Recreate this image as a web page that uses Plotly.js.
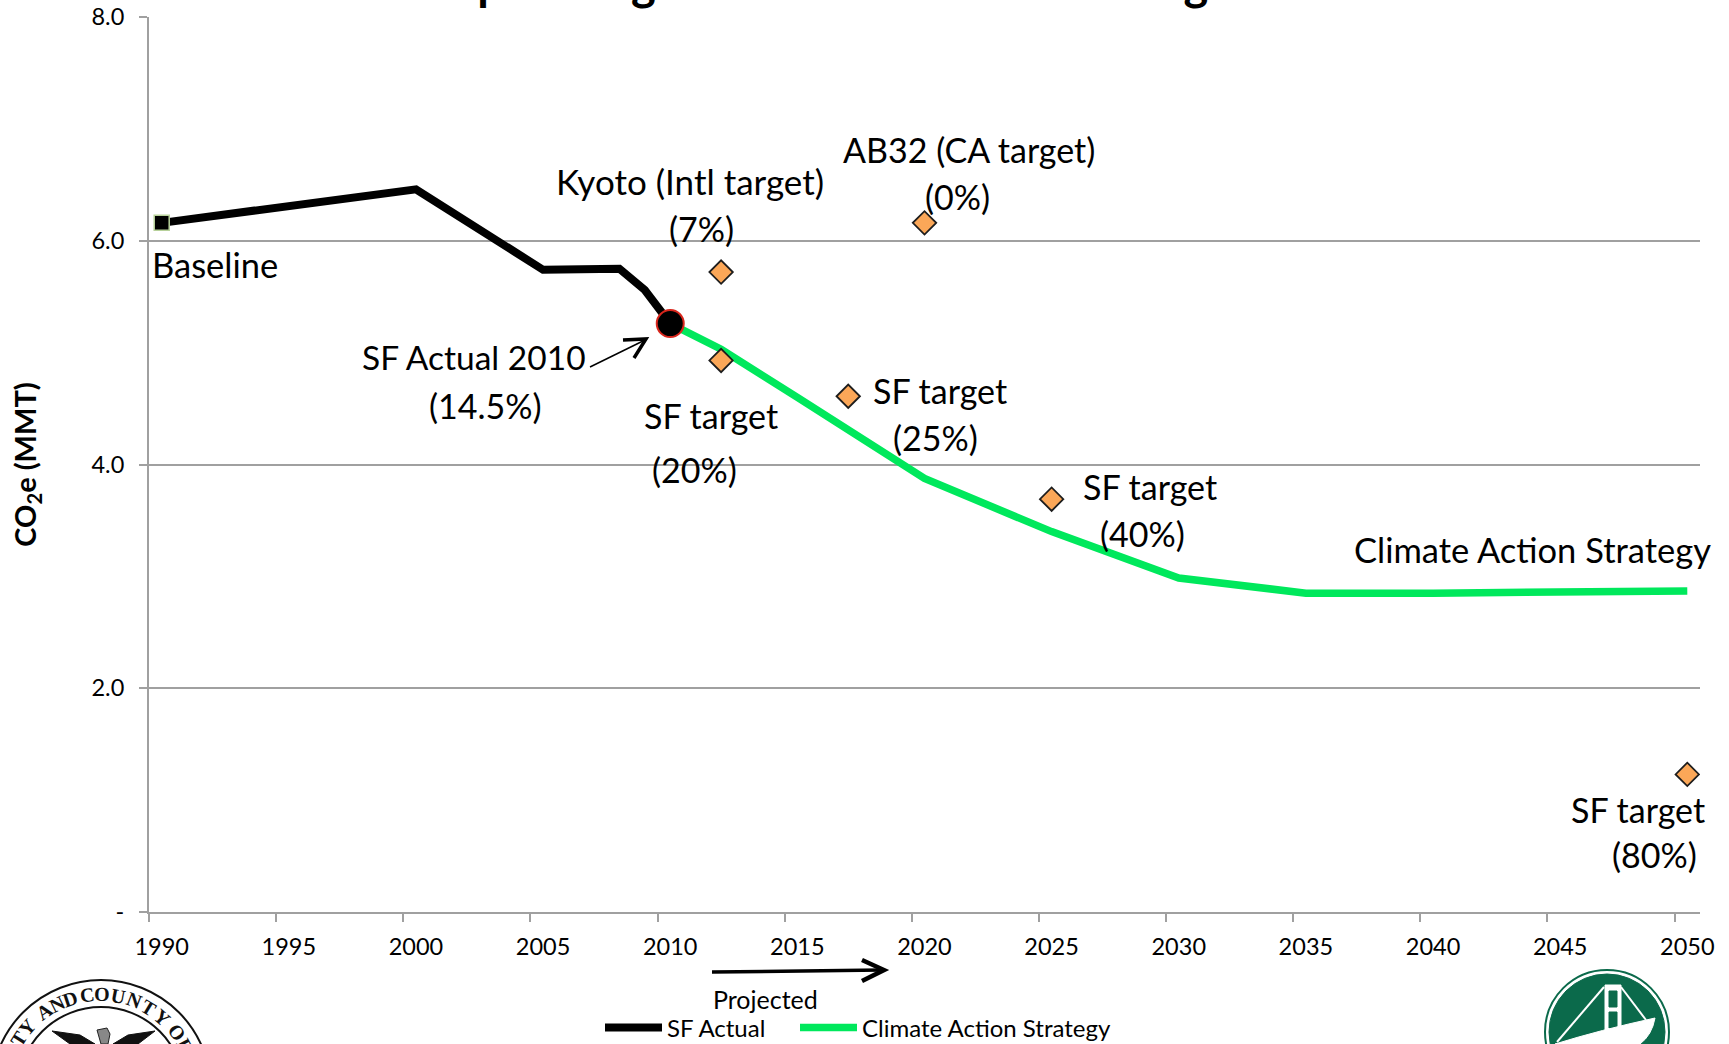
<!DOCTYPE html>
<html><head><meta charset="utf-8">
<script src="https://cdn.plot.ly/plotly-3.0.1.min.js"></script>
<style>html,body{margin:0;padding:0;background:#fff}#c{width:1729px;height:1044px}</style>
</head><body><div id="c"></div>
<script>
const actualYears=[1990,2000,2005,2008,2009,2010];
const actualValues=[6.16,6.46,5.74,5.75,5.56,5.26];
const strategyYears=[2010,2012,2015,2020,2025,2030,2035,2040,2050];
const strategyValues=[5.26,5.03,4.60,3.875,3.40,2.985,2.85,2.85,2.87];
const targetYears=[2012,2012,2017,2020,2025,2050];
const targetValues=[5.72,4.93,4.61,6.16,3.69,1.23];
const baselineYear=[1990],baselineValue=[6.16];
const actual2010Year=[2010],actual2010Value=[5.26];
const axisYears=[];for(let y=1990;y<=2050;y++)axisYears.push(String(y));
const yTickVals=[0,2,4,6,8],yTickText=['-','2.0','4.0','6.0','8.0'];
const titleText='Upcoming Reductions and State Targets';
const FONT='Lato, "Noto Sans", sans-serif';
const L=149,R=1700,T=17,B=912;
const px=x=>(x-L)/(R-L),py=y=>(B-y)/(B-T);
const P=(x,y)=>px(x)+','+py(y);
const S=1.1027;
const labels=[['Baseline',195,239.5,34.5],['Kyoto (Intl target)',626,164.5,35],['(7%)',636,207.5],['AB32 (CA target)',879,135.5],['(0%)',868,178.5],
['SF Actual 2010',430,323.5,33.5],['(14.5%)',440,367.5],['SF target',645,376.5],['(20%)',630,425.5],['SF target',852,354.5],['(25%)',848,396.5],
['SF target',1043,441.5],['(40%)',1036,483.5],['Climate Action Strategy',1390,498.5,34.5],['SF target',1485,734.5],['(80%)',1500,774.5]];
const ann=labels.map(l=>({text:l[0],xref:'paper',yref:'paper',x:px(l[1]*S),y:py(l[2]*S),xanchor:'center',yanchor:'middle',showarrow:false,font:{family:FONT,size:l[3]||34,color:'#000'}}));
ann.push({text:'Projected',xref:'paper',yref:'paper',x:px(694*S),y:py(906*S),xanchor:'center',yanchor:'middle',showarrow:false,font:{family:FONT,size:25,color:'#000'}});
const sealLetters=[['T',-58],['Y',-49],['A',-35],['N',-26.5],['D',-18.5],['C',-8],['O',1],['U',11],['N',21],['T',31],['Y',41],['O',53],['F',62]];
sealLetters.forEach(s=>{const a=s[1]*Math.PI/180;ann.push({text:'<b>'+s[0]+'</b>',xref:'paper',yref:'paper',x:px(100+96*Math.sin(a)),y:py(1090-96*Math.cos(a)),xanchor:'center',yanchor:'middle',textangle:s[1],showarrow:false,font:{family:'"Liberation Serif", serif',size:20,color:'#111'}});});
const pathShape=(d,color,w,fill)=>({type:'path',xref:'paper',yref:'paper',path:d,line:{color:color,width:w},fillcolor:fill||'rgba(0,0,0,0)'});
const circ=(cx,cy,r,line,w,fill)=>({type:'circle',xref:'paper',yref:'paper',x0:px(cx-r),x1:px(cx+r),y0:py(cy+r),y1:py(cy-r),line:{color:line,width:w},fillcolor:fill||'rgba(0,0,0,0)'});
const G='#0b6a4b';
const shapes=[
 pathShape('M'+P(590,367)+' L'+P(645,340),'#000',1.5),
 pathShape('M'+P(623,340)+' L'+P(646,339)+' L'+P(634,358),'#000',3.5),
 pathShape('M'+P(712,972)+' L'+P(882,970),'#000',3.5),
 pathShape('M'+P(862,960)+' L'+P(884,970)+' L'+P(862,981),'#000',4.5),
 circ(101,1090,110,'#111',2),circ(101,1090,83,'#111',2),
 pathShape('M'+P(52,1031)+' L'+P(80,1035)+' L'+P(95,1044)+' L'+P(70,1044)+' Z','#111',1,'#111'),
 pathShape('M'+P(155,1031)+' L'+P(128,1035)+' L'+P(113,1044)+' L'+P(138,1044)+' Z','#111',1,'#111'),
 pathShape('M'+P(97,1030)+' L'+P(107,1028)+' L'+P(110,1034)+' L'+P(108,1044)+' L'+P(101,1044)+' Z','#222',1,'#888'),
 circ(1607,1032,62,G,2),circ(1607,1032,58,G,1,G),
 pathShape('M'+P(1605,985)+' L'+P(1621,985)+' L'+P(1621,1033)+' L'+P(1605,1035)+' Z','#fff',1,'#fff'),
 pathShape('M'+P(1609,991)+' L'+P(1617,991)+' L'+P(1617,1007)+' L'+P(1609,1007)+' Z',G,1,G),
 pathShape('M'+P(1609,1012)+' L'+P(1617,1012)+' L'+P(1617,1028)+' L'+P(1609,1028)+' Z',G,1,G),
 pathShape('M'+P(1604,987)+' L'+P(1557,1042),'#fff',2),
 pathShape('M'+P(1621,987)+' L'+P(1646,1020),'#fff',2),
 pathShape('M'+P(1555,1044)+' Q'+P(1600,1030)+' '+P(1655,1018)+' Q'+P(1652,1035)+' '+P(1640,1044)+' Z','#fff',1,'#fff')
];
const traces=[
 {x:strategyYears.map(String),y:strategyValues,type:'scatter',mode:'lines',name:'Climate Action Strategy',legend:'legend2',line:{color:'#00e85c',width:7.5}},
 {x:actualYears.map(String),y:actualValues,type:'scatter',mode:'lines',name:'SF Actual',line:{color:'#000',width:8}},
 {x:baselineYear.map(String),y:baselineValue,type:'scatter',mode:'markers',showlegend:false,marker:{symbol:'square',size:15,color:'#000',line:{color:'#b7d19a',width:1.5}}},
 {x:actual2010Year.map(String),y:actual2010Value,type:'scatter',mode:'markers',showlegend:false,marker:{symbol:'circle',size:27,color:'#000',line:{color:'#d8261c',width:2}}},
 {x:targetYears.map(String),y:targetValues,type:'scatter',mode:'markers',showlegend:false,marker:{symbol:'diamond',size:18,color:'#fba758',line:{color:'#1d1d1d',width:1.8}}}
];
const legendBase={orientation:'h',xref:'container',yref:'container',y:1-1005.5/1044,xanchor:'left',yanchor:'top',itemwidth:57,bgcolor:'rgba(0,0,0,0)',font:{family:FONT,size:24,color:'#000'}};
const layout={
 width:1729,height:1044,paper_bgcolor:'#fff',plot_bgcolor:'#fff',
 margin:{l:L,r:1729-R,t:T,b:1044-B,pad:0},
 title:{text:'<b>'+titleText+'</b>',x:0.4957,xanchor:'center',yref:'container',y:1,yanchor:'bottom',font:{family:FONT,size:47,color:'#000'}},
 font:{family:FONT,color:'#000'},
 xaxis:{type:'category',categoryorder:'array',categoryarray:axisYears,range:[-0.5,60.5],dtick:5,tickson:'boundaries',ticks:'outside',ticklen:8,tickwidth:2,tickcolor:'#a0a0a0',showgrid:false,zeroline:false,showline:true,linecolor:'#a0a0a0',linewidth:2,tickangle:0,ticklabelstandoff:13,tickfont:{family:FONT,size:23.5,color:'#000'}},
 yaxis:{range:[0,8],tickmode:'array',tickvals:yTickVals,ticktext:yTickText,ticks:'outside',ticklen:8,tickwidth:2,tickcolor:'#a0a0a0',showgrid:true,gridcolor:'#a0a0a0',gridwidth:2,zeroline:false,showline:true,linecolor:'#a0a0a0',linewidth:2,ticklabelstandoff:10,tickfont:{family:FONT,size:23.5,color:'#000'},
  title:{text:'<b>CO<sub>2</sub>e (MMT)</b>',standoff:46,font:{family:FONT,size:29,color:'#000'}}},
 legend:Object.assign({},legendBase,{x:600/1729}),
 legend2:Object.assign({},legendBase,{x:795/1729}),
 annotations:ann,shapes:shapes
};
Plotly.newPlot('c',traces,layout,{displayModeBar:false,staticPlot:true});
</script></body></html>
